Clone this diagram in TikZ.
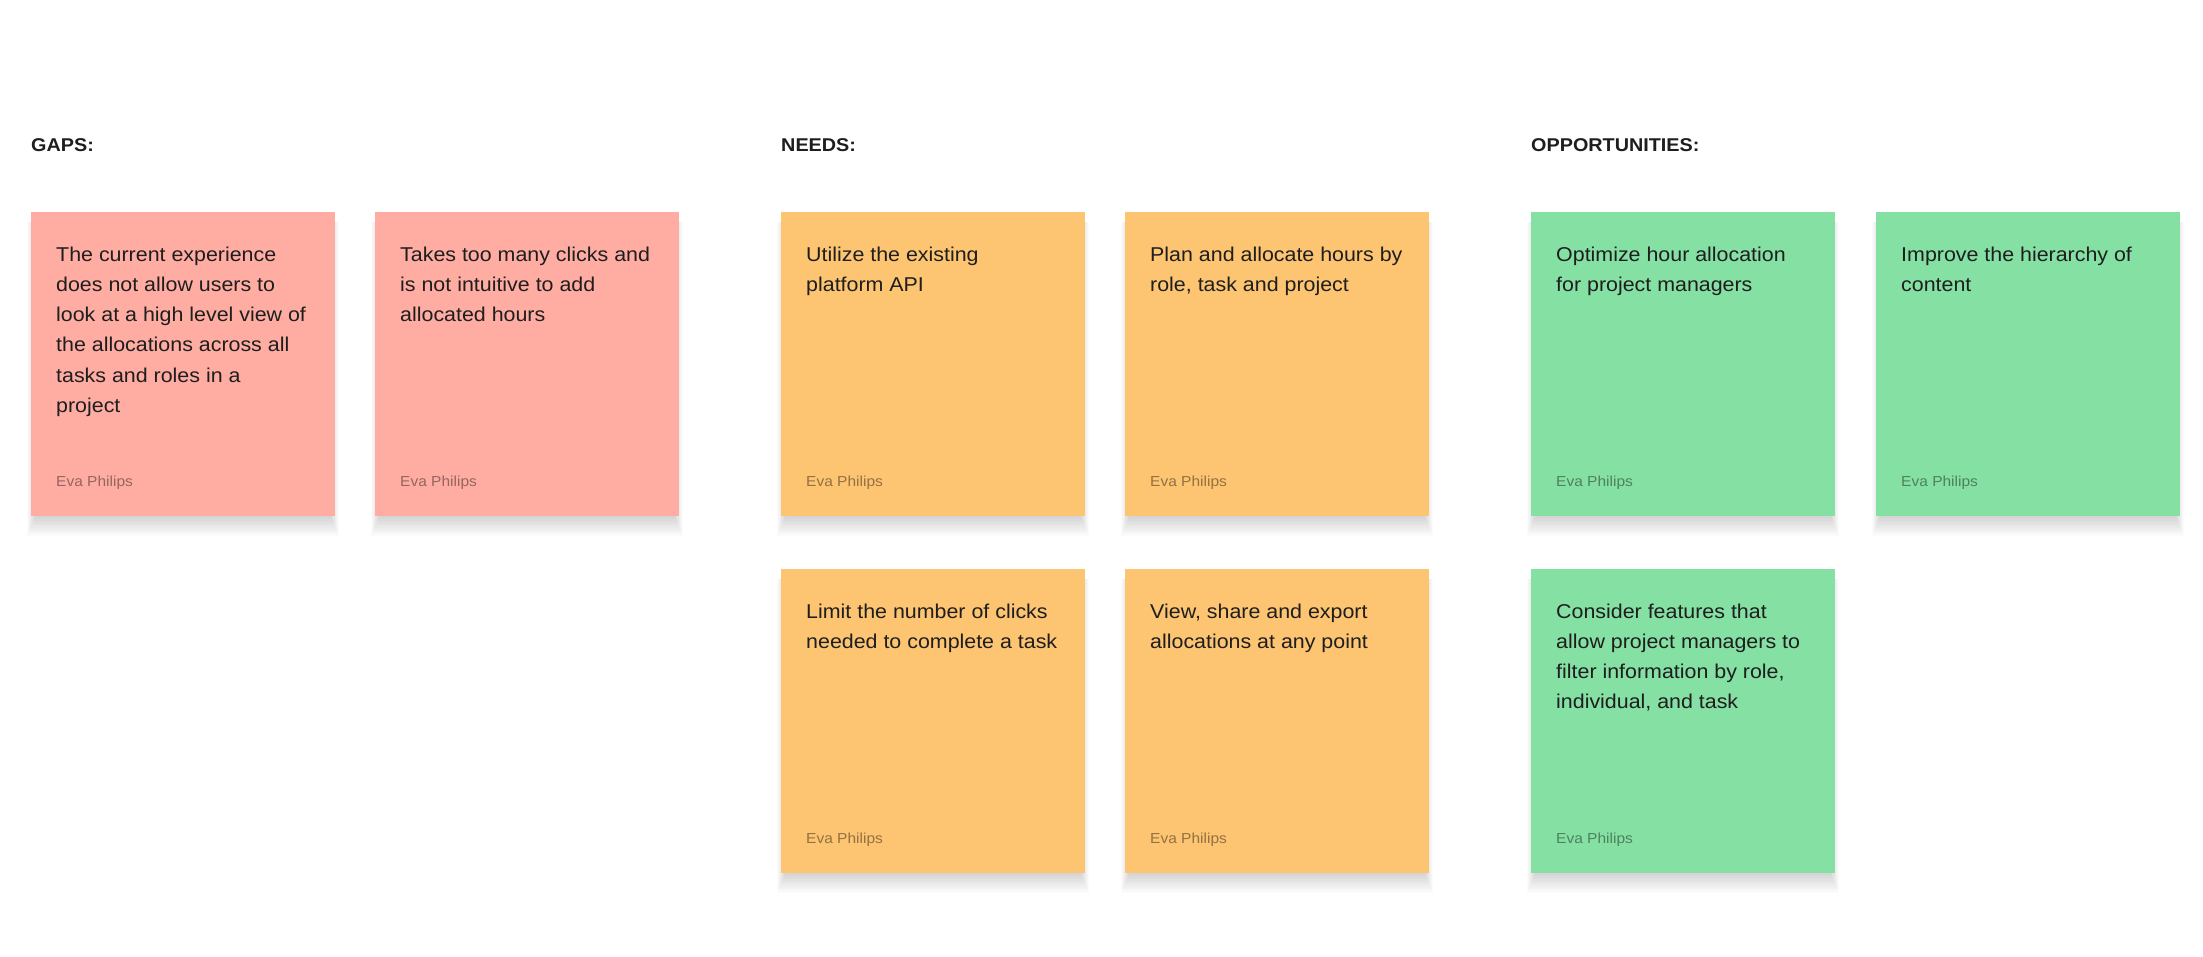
\documentclass[tikz,border=0pt]{standalone}
\usepackage{fontspec}
\setmainfont{Liberation Sans}[FakeStretch=1.07]
\usetikzlibrary{calc}
\definecolor{gapc}{HTML}{FFADA3}
\definecolor{needc}{HTML}{FDC472}
\definecolor{oppc}{HTML}{85E0A3}
\definecolor{ink}{HTML}{1E1E1E}
\tikzset{
  cardbox/.style={minimum width=304pt, minimum height=304pt, inner sep=0pt, outer sep=0pt, anchor=north west},
  bodyline/.style={anchor=base west, inner sep=0pt, font=\fontsize{20}{24}\selectfont, text=ink},
  author/.style={anchor=base west, inner sep=0pt, font=\fontsize{14.5}{17}\selectfont, text=black, text opacity=0.42},
  heading/.style={anchor=base west, inner sep=0pt, font=\bfseries\fontsize{18.5}{22}\selectfont, text=ink},
  cardshadow/.style={fill=black, opacity=0.011},
}
\newcommand\stickycard[5]{%
  \foreach \k in {0,...,13}{\fill[cardshadow] (#2+4-\k*0.6, #3+10) rectangle (#2+300+\k*0.6, #3+306+\k*1.4);}
  \node[cardbox, fill=#4] (#1) at (#2,#3) {};
  \foreach \l [count=\i] in {#5}{\node[bodyline] (#1-l\i) at ($(#1.north west)+(25,{49+(\i-1)*30.3})$) {\l};}
  \node[author] (#1-a) at ($(#1.south west)+(25,-30)$) {Eva Philips};
}
\begin{document}
\begin{tikzpicture}[x=1pt,y=-1pt]
\fill[white] (0,0) rectangle (2203,956);
\useasboundingbox (0,0) rectangle (2203,956);
\node[heading] (hgaps) at (31,151.7) {GAPS:};
\node[heading] (hneeds) at (781,151.7) {NEEDS:};
\node[heading] (hopps) at (1531,151.7) {OPPORTUNITIES:};
\stickycard{g1}{31}{212}{gapc}{{The current experience},{does not allow users to},{look at a high level view of},{the allocations across all},{tasks and roles in a},{project}}
\stickycard{g2}{375}{212}{gapc}{{Takes too many clicks and},{is not intuitive to add},{allocated hours}}
\stickycard{n1}{781}{212}{needc}{{Utilize the existing},{platform API}}
\stickycard{n2}{1125}{212}{needc}{{Plan and allocate hours by},{role, task and project}}
\stickycard{n3}{781}{569}{needc}{{Limit the number of clicks},{needed to complete a task}}
\stickycard{n4}{1125}{569}{needc}{{View, share and export},{allocations at any point}}
\stickycard{o1}{1531}{212}{oppc}{{Optimize hour allocation},{for project managers}}
\stickycard{o2}{1876}{212}{oppc}{{Improve the hierarchy of},{content}}
\stickycard{o3}{1531}{569}{oppc}{{Consider features that},{allow project managers to},{filter information by role,},{individual, and task}}
\end{tikzpicture}
\end{document}
